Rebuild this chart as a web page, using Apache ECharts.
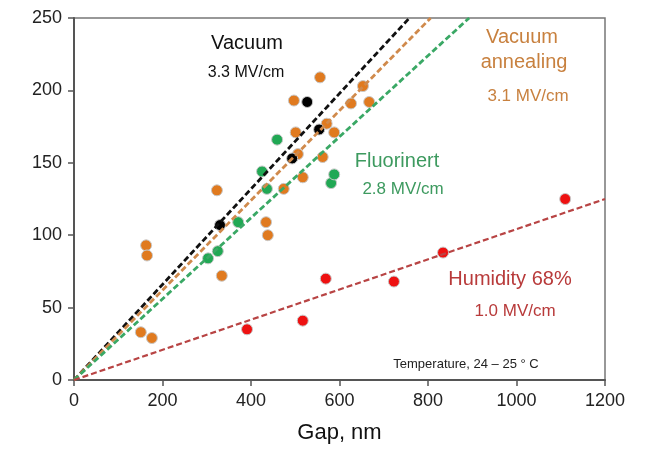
<!DOCTYPE html>
<html><head><meta charset="utf-8">
<script src="https://cdn.jsdelivr.net/npm/echarts@6/dist/echarts.min.js"></script>
<style>html,body{margin:0;padding:0;background:#fff}#c{width:646px;height:459px}</style>
</head><body><div id="c"></div>
<script>
const xTicks = [0, 200, 400, 600, 800, 1000, 1200];
const yTicks = [0, 50, 100, 150, 200, 250];
const vacuumPts = [[330,107],[493,153],[527,192],[554,173]];
const annealPts = [[151,33],[176,29],[163,93],[165,86],[323,131],[334,72],[434,109],[438,100],[474,132],[497,193],[501,171],[506,156],[517,140],[556,209],[562,154],[571,177],[588,171],[626,191],[653,203],[667,192]];
const fluorPts = [[303,84],[325,89],[371,109],[425,144],[436,132],[459,166],[581,136],[588,142]];
const humidPts = [[391,35],[517,41],[569,70],[723,68],[834,88],[1110,125]];
const vacuumFit = [[0,0],[758,250]];
const annealFit = [[0,0],[806,250]];
const fluorFit = [[0,0],[893,250]];
const humidFit = [[0,0],[1200,125]];
const labels = [
  {t:'Vacuum', x:247, y:43, c:'#111', s:20},
  {t:'3.3 MV/cm', x:246, y:73, c:'#111', s:16},
  {t:'Vacuum', x:522, y:37, c:'#c8813f', s:20},
  {t:'annealing', x:524, y:62, c:'#c8813f', s:20},
  {t:'3.1 MV/cm', x:528, y:96, c:'#c8813f', s:17},
  {t:'Fluorinert', x:397, y:161, c:'#3d9a5f', s:20},
  {t:'2.8 MV/cm', x:403, y:189, c:'#3d9a5f', s:17},
  {t:'Humidity 68%', x:510, y:279, c:'#b83a3a', s:20},
  {t:'1.0 MV/cm', x:515, y:311, c:'#b83a3a', s:17},
  {t:'Temperature, 24 – 25 ° C', x:466, y:364, c:'#222', s:13}
];
const ch = echarts.init(document.getElementById('c'));
const ff = '"Liberation Sans", Arial, sans-serif';
function sc(d, col, z){return {type:'scatter', data:d, symbolSize:11, z:z,
  itemStyle:{color:col, opacity:1, borderColor:'#c8c8c8', borderWidth:1}};}
function ln(d, col, w){return {type:'line', data:d, symbol:'none', z:5, silent:true,
  lineStyle:{color:col, width:w, type:[6,3]}};}
ch.setOption({
  animation:false,
  textStyle:{fontFamily:ff},
  grid:{left:74, right:41, top:18, bottom:79, show:true, borderColor:'#777', borderWidth:1.5},
  xAxis:{type:'value', min:0, max:1200, interval:200, name:'Gap, nm', nameLocation:'middle', nameGap:42,
    nameTextStyle:{fontSize:22, color:'#111', fontFamily:ff},
    axisLine:{show:true, lineStyle:{color:'#555', width:2}},
    axisTick:{show:true, length:6, lineStyle:{color:'#555', width:1.5}},
    axisLabel:{fontSize:18, color:'#222', margin:12, fontFamily:ff, formatter:v=>xTicks.includes(v)?String(v):''},
    splitLine:{show:false}},
  yAxis:{type:'value', min:0, max:250, interval:50,
    axisLine:{show:true, lineStyle:{color:'#555', width:2}},
    axisTick:{show:true, length:6, lineStyle:{color:'#555', width:1.5}},
    axisLabel:{fontSize:18, color:'#222', margin:12, fontFamily:ff, formatter:v=>yTicks.includes(v)?String(v):''},
    splitLine:{show:false}},
  graphic: labels.map(l=>({type:'text', x:l.x, y:l.y, z:100,
    style:{text:l.t, fill:l.c, font:`${l.s}px ${ff}`, textAlign:'center', textVerticalAlign:'middle'}})),
  series:[
    sc(annealPts,'#e07a1f',2), sc(fluorPts,'#21a854',2), sc(vacuumPts,'#000',3), sc(humidPts,'#ee1111',2),
    ln(vacuumFit,'#111',2.8), ln(annealFit,'#d08a4c',2.8), ln(fluorFit,'#3aa865',2.8), ln(humidFit,'#b84444',2.2)
  ]
});
</script></body></html>
